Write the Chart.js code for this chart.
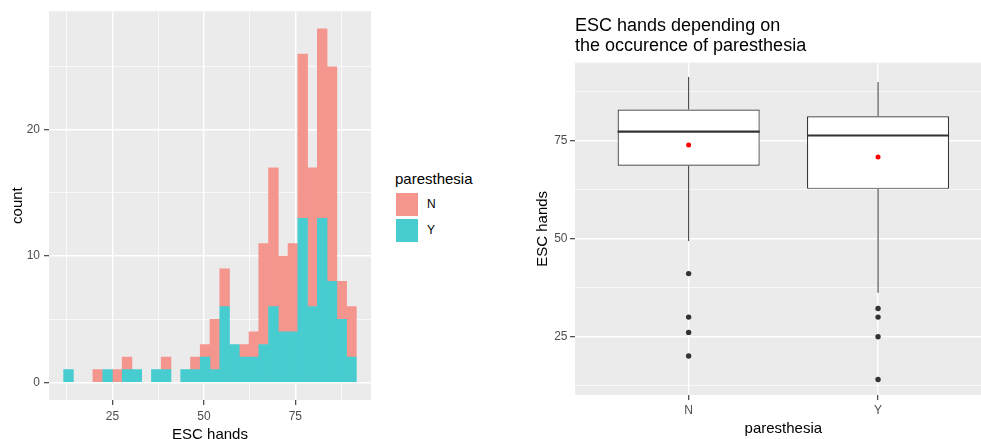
<!DOCTYPE html>
<html>
<head>
<meta charset="utf-8">
<script src="https://cdn.jsdelivr.net/npm/chart.js@4/dist/chart.umd.min.js"></script>
<style>
html,body{margin:0;padding:0;background:#fff;width:981px;height:439px;overflow:hidden;position:relative;font-family:"Liberation Sans",Arial,sans-serif;}
#histCanvas{position:absolute;left:0;top:0;}
#boxCanvas{position:absolute;left:520px;top:0;}
#legend{position:absolute;left:395px;top:170px;color:#000;}
#legend .lt{font-size:15px;line-height:18px;height:18px;white-space:nowrap;}
#legend .row{position:relative;height:25.6px;}
#legend .key{position:absolute;left:1px;top:5px;width:22px;height:23px;}
#legend .lab{position:absolute;left:32px;top:9px;font-size:12px;line-height:14px;}
</style>
</head>
<body>
<canvas id="histCanvas" width="381" height="446"></canvas>
<div id="legend"></div>
<canvas id="boxCanvas" width="480" height="439"></canvas>
<script>
// ---------- data: histogram (left) ----------
const binCenters = [13.00,15.67,18.33,21.00,23.67,26.33,29.00,31.67,34.33,37.00,39.67,42.33,45.00,47.67,50.33,53.00,55.67,58.33,61.00,63.67,66.33,69.00,71.67,74.33,77.00,79.67,82.33,85.00,87.67,90.33];
const countN = [0,0,0,1,0,1,1,0,0,0,1,0,0,1,1,4,3,0,1,2,8,11,6,7,13,11,15,17,3,4];
const countY = [1,0,0,0,1,0,1,1,0,1,1,0,1,1,2,1,6,3,2,2,3,6,4,4,13,6,13,8,5,2];
const seriesNames = ['N','Y'];
const histXTicks = [12.5,25,37.5,50,62.5,75,87.5];
const histXLabels = [25,50,75];
const histYTicks = [0,5,10,15,20,25];
const histYLabels = [0,10,20];

// ---------- data: boxplot (right) ----------
const categories = ['N','Y'];
const whiskerLow = [49.4, 36.2];
const q1 = [68.6, 62.7];
const median = [77.3, 76.3];
const q3 = [82.9, 81.2];
const whiskerHigh = [91.2, 89.9];
const means = [73.9, 70.8];
const outliersN = [41.1, 30.0, 26.1, 20.1];
const outliersY = [32.2, 30.0, 25.0, 14.1];
const boxYTicks = [12.5,25,37.5,50,62.5,75,87.5];
const boxYLabels = [25,50,75];

// ---------- styles ----------
const colorN = '#F4958E';
const colorY = '#47CCD0';
const panelGrey = '#EBEBEB';
const tickGrey = '#4D4D4D';
const FONT = '"Liberation Sans", Arial, sans-serif';
Chart.defaults.font.family = FONT;
Chart.defaults.animation = false;

const panelBg = {
  id: 'panelBg',
  beforeDraw(chart) {
    const {ctx, chartArea: a} = chart;
    ctx.save();
    ctx.fillStyle = panelGrey;
    ctx.fillRect(a.left, a.top, a.right - a.left, a.bottom - a.top);
    ctx.restore();
  }
};

function gridOpts(majors) {
  return {
    color: '#FFFFFF',
    lineWidth: c => (c.tick && majors.includes(c.tick.value)) ? 1.4 : 0.7,
    tickColor: c => (c.tick && majors.includes(c.tick.value)) ? '#333333' : 'rgba(0,0,0,0)',
    tickLength: 5,
    tickWidth: 1.1,
    drawTicks: true,
    offset: false
  };
}

// inflate only non-empty bins (avoid hairlines for zero counts)
const inflateNonZero = c => (c.raw && c.raw.y > 0) ? 0.33 : 0;

// ---------- left: histogram ----------
new Chart(document.getElementById('histCanvas'), {
  type: 'bar',
  plugins: [panelBg],
  data: {
    datasets: [
      { label: 'Y', data: binCenters.map((x, i) => ({x, y: countY[i]})), backgroundColor: colorY, borderWidth: 0,
        barPercentage: 1, categoryPercentage: 1, inflateAmount: inflateNonZero },
      { label: 'N', data: binCenters.map((x, i) => ({x, y: countN[i]})), backgroundColor: colorN, borderWidth: 0,
        barPercentage: 1, categoryPercentage: 1, inflateAmount: inflateNonZero }
    ]
  },
  options: {
    responsive: false,
    events: [],
    layout: { padding: { top: 10, right: 10, left: 0, bottom: 0 } },
    plugins: { legend: { display: false }, tooltip: { enabled: false }, title: { display: false } },
    scales: {
      x: {
        type: 'linear', min: 7.67, max: 95.67, offset: false, stacked: true,
        afterBuildTicks: s => { s.ticks = histXTicks.map(v => ({value: v})); },
        afterFit: s => { s.height = 46; },
        ticks: { autoSkip: false, maxRotation: 0, color: tickGrey, font: { size: 12 }, padding: 4,
                 callback: v => histXLabels.includes(v) ? String(v) : '' },
        grid: gridOpts(histXLabels),
        border: { display: false },
        title: { display: true, text: 'ESC hands', color: '#000', font: { size: 15 }, padding: { top: 0, bottom: 2 } }
      },
      y: {
        type: 'linear', min: -1.4, max: 29.4, stacked: true,
        afterBuildTicks: s => { s.ticks = histYTicks.map(v => ({value: v})); },
        afterFit: s => { s.width = 49; },
        ticks: { autoSkip: false, color: tickGrey, font: { size: 12 }, padding: 4,
                 callback: v => histYLabels.includes(v) ? String(v) : '' },
        grid: gridOpts(histYLabels),
        border: { display: false },
        title: { display: true, text: 'count', color: '#000', font: { size: 15 }, padding: { top: 8.5, bottom: 0 } }
      }
    }
  }
});

// legend (real text, built from the series)
(function () {
  const lg = document.getElementById('legend');
  const cols = { N: colorN, Y: colorY };
  let html = '<div class="lt">paresthesia</div>';
  seriesNames.forEach(n => {
    html += '<div class="row"><span class="key" style="background:' + cols[n] + '"></span><span class="lab">' + n + '</span></div>';
  });
  lg.innerHTML = html;
})();

// ---------- right: boxplot ----------
const boxHalf = 0.375;
const catPos = categories.map((c, i) => i + 1);
new Chart(document.getElementById('boxCanvas'), {
  type: 'bar',
  plugins: [panelBg],
  data: {
    datasets: [
      { type: 'bar', label: 'lower whisker', data: catPos.map((x, i) => ({x, y: [whiskerLow[i], q1[i]]})),
        backgroundColor: '#333333', borderWidth: 0, maxBarThickness: 1, grouped: false, order: 6 },
      { type: 'bar', label: 'upper whisker', data: catPos.map((x, i) => ({x, y: [q3[i], whiskerHigh[i]]})),
        backgroundColor: '#333333', borderWidth: 0, maxBarThickness: 1, grouped: false, order: 5 },
      { type: 'bar', label: 'box', data: catPos.map((x, i) => ({x, y: [q1[i], q3[i]]})),
        backgroundColor: '#FFFFFF', borderColor: '#333333', borderWidth: 1.2, borderSkipped: false,
        barPercentage: 0.75, categoryPercentage: 1, grouped: false, order: 4 },
      { type: 'scatter', label: 'median', data: catPos.map((x, i) => ({x, y: median[i]})),
        pointStyle: 'line', pointBorderColor: '#333333', pointBorderWidth: 2.2,
        pointRadius: c => { const s = c.chart.scales.x; return Math.abs(s.getPixelForValue(1 + boxHalf) - s.getPixelForValue(1)); },
        order: 3 },
      { type: 'scatter', label: 'outliers',
        data: outliersN.map(y => ({x: catPos[0], y})).concat(outliersY.map(y => ({x: catPos[1], y}))),
        pointRadius: 2.7, pointBackgroundColor: '#333333', pointBorderWidth: 0, order: 2 },
      { type: 'scatter', label: 'mean', data: catPos.map((x, i) => ({x, y: means[i]})),
        pointRadius: 2.5, pointBackgroundColor: '#FF0000', pointBorderWidth: 0, order: 1 }
    ]
  },
  options: {
    responsive: false,
    events: [],
    layout: { padding: { top: 0, right: 8.3, left: 0, bottom: 0 } },
    plugins: {
      legend: { display: false }, tooltip: { enabled: false },
      title: { display: true, text: ['ESC hands depending on', 'the occurence of paresthesia'],
               align: 'start', fullSize: false, color: '#000',
               font: { size: 18, weight: 'normal', lineHeight: 1.1 },
               padding: { top: 16.6, bottom: 6.5 } }
    },
    scales: {
      x: {
        type: 'linear', min: 0.4, max: 2.6, offset: false,
        afterBuildTicks: s => { s.ticks = catPos.map(v => ({value: v})); },
        afterFit: s => { s.height = 44; },
        ticks: { autoSkip: false, maxRotation: 0, color: tickGrey, font: { size: 12 }, padding: 3,
                 callback: v => categories[v - 1] },
        grid: gridOpts(catPos),
        border: { display: false },
        title: { display: true, text: 'paresthesia', color: '#000', font: { size: 15 }, padding: { top: 0, bottom: 1.5 } }
      },
      y: {
        type: 'linear', min: 10.15, max: 94.85,
        afterBuildTicks: s => { s.ticks = boxYTicks.map(v => ({value: v})); },
        afterFit: s => { s.width = 55; },
        ticks: { autoSkip: false, color: tickGrey, font: { size: 12 }, padding: 2.5,
                 callback: v => boxYLabels.includes(v) ? String(v) : '' },
        grid: gridOpts(boxYLabels),
        border: { display: false },
        title: { display: true, text: 'ESC hands', color: '#000', font: { size: 15 }, padding: { top: 13.5, bottom: 0 } }
      }
    }
  }
});
</script>
</body>
</html>
